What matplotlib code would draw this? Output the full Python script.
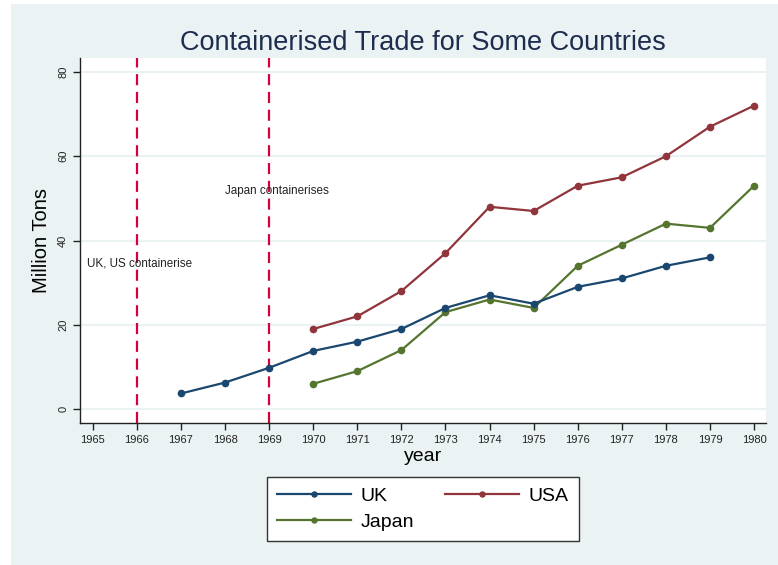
import numpy as np
import matplotlib.pyplot as plt

plt.rcParams['font.family'] = ['Liberation Sans', 'DejaVu Sans']

# data
uk_years = [1967, 1968, 1969, 1970, 1971, 1972, 1973, 1974, 1975, 1976, 1977, 1978, 1979]
uk_vals = [3.7, 6.3, 9.8, 13.8, 16, 19, 24, 27, 25, 29, 31, 34, 36]
usa_years = [1970, 1971, 1972, 1973, 1974, 1975, 1976, 1977, 1978, 1979, 1980]
usa_vals = [19, 22, 28, 37, 48, 47, 53, 55, 60, 67, 72]
japan_years = [1970, 1971, 1972, 1973, 1974, 1975, 1976, 1977, 1978, 1979, 1980]
japan_vals = [6, 9, 14, 23, 26, 24, 34, 39, 44, 43, 53]

events = [1966, 1969]
event_labels = ['UK, US containerise', 'Japan containerises']
event_label_pos = [(1964.88, 34.6), (1968.0, 51.7)]

xticks = list(range(1965, 1981))
yticks = [0, 20, 40, 60, 80]

bg = '#EAF2F3'
fig = plt.figure(figsize=(7.78, 5.65), dpi=100)
fig.patch.set_facecolor('white')

# light graph region behind the plot
bgax = fig.add_axes([11 / 778, 0, 1 - 11 / 778, 1 - 4 / 565], zorder=-1)
bgax.set_facecolor(bg)
bgax.set_xticks([])
bgax.set_yticks([])
for s in bgax.spines.values():
    s.set_visible(False)

ax = fig.add_axes([80 / 778, 1 - 423 / 565, (766 - 80) / 778, (423 - 58) / 565])
ax.set_facecolor('white')
for s in ['top', 'right']:
    ax.spines[s].set_visible(False)
for s in ['left', 'bottom']:
    ax.spines[s].set_color('#222222')
    ax.spines[s].set_linewidth(1.0)

for y in yticks:
    ax.axhline(y, color=bg, lw=1.5, zorder=1)

l_uk, = ax.plot(uk_years, uk_vals, color='#1A476F', marker='o', ms=4.5, lw=1.6, label='UK', zorder=4)
l_usa, = ax.plot(usa_years, usa_vals, color='#90353B', marker='o', ms=4.5, lw=1.6, label='USA', zorder=3)
l_jp, = ax.plot(japan_years, japan_vals, color='#55752F', marker='o', ms=4.5, lw=1.6, label='Japan', zorder=3)

for x in events:
    ax.axvline(x, color='#D7003F', lw=1.6, ls=(0, (5, 3)), zorder=2)
for txt, (tx, ty) in zip(event_labels, event_label_pos):
    ax.text(tx, ty, txt, fontsize=8.4, color='#222222', va='center', ha='left', zorder=5)

ax.set_xlim(1964.71, 1980.27)
ax.set_ylim(-3.3, 83.3)
ax.set_xticks(xticks)
ax.set_xticklabels([str(x) for x in xticks], fontsize=8)
ax.set_yticks(yticks)
ax.set_yticklabels([str(y) for y in yticks], fontsize=8, rotation=90, va='center')
ax.tick_params(axis='both', direction='out', length=5, width=1, color='#222222', labelcolor='#222222')

ax.set_xlabel('year', fontsize=14, labelpad=2)
ax.set_ylabel('Million Tons', fontsize=14.5, labelpad=5)
fig.suptitle('Containerised Trade for Some Countries', fontsize=19.5, color='#1E2D4E',
             x=0.543, y=0.947)

leg = fig.legend([l_uk, l_jp, l_usa], ['UK', 'Japan', 'USA'], loc='center',
                 bbox_to_anchor=(423 / 778, 1 - 509 / 565), ncol=2,
                 fontsize=14, frameon=True, fancybox=False, framealpha=1, markerscale=0.8,
                 handlelength=3.8, handletextpad=0.5, columnspacing=1.6, borderpad=0.5,
                 labelspacing=0.45)
leg.get_frame().set_edgecolor('#333333')
leg.get_frame().set_facecolor('white')
leg.get_frame().set_linewidth(1.0)

fig.savefig('out.png', dpi=100, facecolor=fig.get_facecolor())
